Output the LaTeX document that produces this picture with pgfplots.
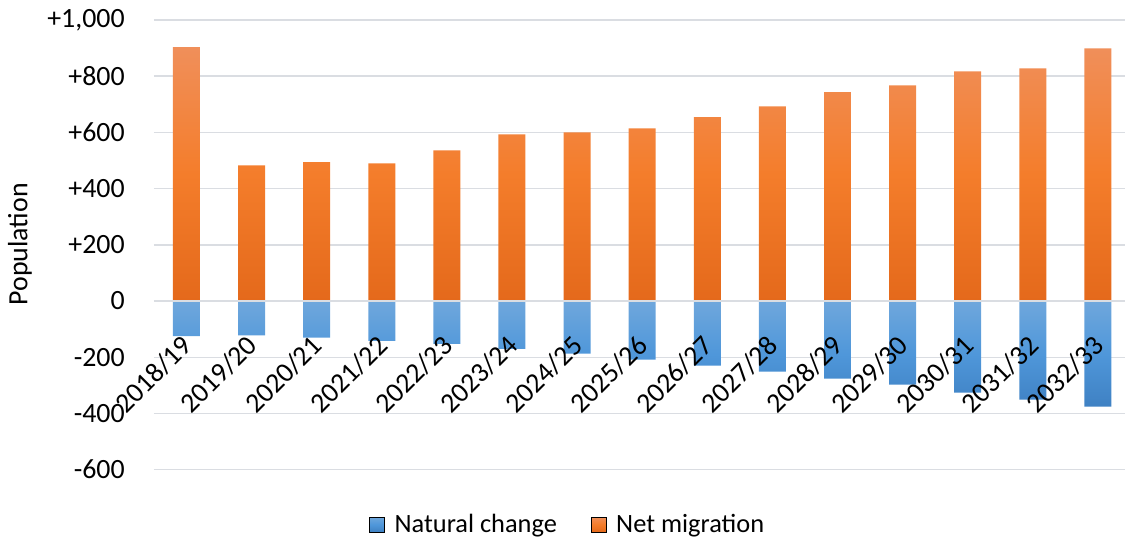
\documentclass[border=0pt]{standalone}
\usepackage{fontspec}
\setmainfont{Carlito}
\usepackage{pgfplots}
\pgfplotsset{compat=1.18}
\definecolor{gridc}{HTML}{DADDE2}
\definecolor{orT}{HTML}{F08F5A}
\definecolor{orM}{HTML}{F47D2B}
\definecolor{orB}{HTML}{E4691B}
\definecolor{blT}{HTML}{6FA7DC}
\definecolor{blM}{HTML}{4F97DA}
\definecolor{blB}{HTML}{3F81C3}
\pgfplotsset{
  common/.style={
    at={(154bp,71bp)}, anchor=south west,
    scale only axis, width=972bp, height=450bp,
    xmin=-0.5, xmax=14.42, ymin=-600, ymax=1000,
    axis line style={draw=none},
    major tick length=0pt,
    xtick={0,1,2,3,4,5,6,7,8,9,10,11,12,13,14},
    ytick={-600,-400,-200,0,200,400,600,800,1000},
    tick label style={font=\fontsize{28}{32}\selectfont},
  }
}
\begin{document}
\begin{tikzpicture}
\begin{axis}[
  common,
  yticklabels={-600,-400,-200,0,+200,+400,+600,+800,+1{,}000},
  ymajorgrids, grid style={gridc, line width=1.5bp},
  xticklabels={},
  yticklabel style={anchor=east, inner sep=0pt, xshift=-29bp},
  ylabel={Population},
  ylabel style={font=\fontsize{28}{32}\selectfont, at={(rel axis cs:-0.1379,0.501)}, anchor=center},
  legend columns=2,
  legend style={at={(0.426,-0.122)}, anchor=center, draw=none, fill=none,
    font=\fontsize{26.5}{30}\selectfont,
    /tikz/every even column/.append style={column sep=32bp}},
  legend cell align=left,
]
\addlegendimage{legend image code/.code={\fill[top color=blT, bottom color=blB, middle color=blM] (0bp,-7.5bp) rectangle (15bp,7.5bp); \path (23bp,0bp);}}
\addlegendentry{Natural change}
\addlegendimage{legend image code/.code={\fill[top color=orT, bottom color=orB, middle color=orM] (0bp,-7.5bp) rectangle (15bp,7.5bp); \path (23bp,0bp);}}
\addlegendentry{Net migration}
\addplot[ybar, bar width=27bp, bar shift=0pt, draw=none, forget plot,
  top color=blT, bottom color=blB, middle color=blM]
  coordinates {(0,-125) (1,-122) (2,-130) (3,-142) (4,-152) (5,-170) (6,-187) (7,-208) (8,-230) (9,-251) (10,-276) (11,-297) (12,-326) (13,-351) (14,-376)};
\addplot[ybar, bar width=27bp, bar shift=0pt, draw=none, forget plot,
  top color=orT, bottom color=orB, middle color=orM]
  coordinates {(0,903) (1,483) (2,494) (3,490) (4,536) (5,593) (6,600) (7,614) (8,654) (9,693) (10,743) (11,767) (12,817) (13,828) (14,899)};
\addplot[gridc, line width=1.5bp, forget plot] coordinates {(-0.5,0) (14.42,0)};
\end{axis}
\begin{axis}[
  common,
  yticklabels={},
  xticklabels={2018/19,2019/20,2020/21,2021/22,2022/23,2023/24,2024/25,2025/26,2026/27,2027/28,2028/29,2029/30,2030/31,2031/32,2032/33},
  xticklabel style={xshift=1bp, yshift=129bp, rotate=45, anchor=east, inner sep=0pt},
]
\end{axis}
\path (0,0) rectangle (1126bp,541bp);
\end{tikzpicture}
\end{document}
